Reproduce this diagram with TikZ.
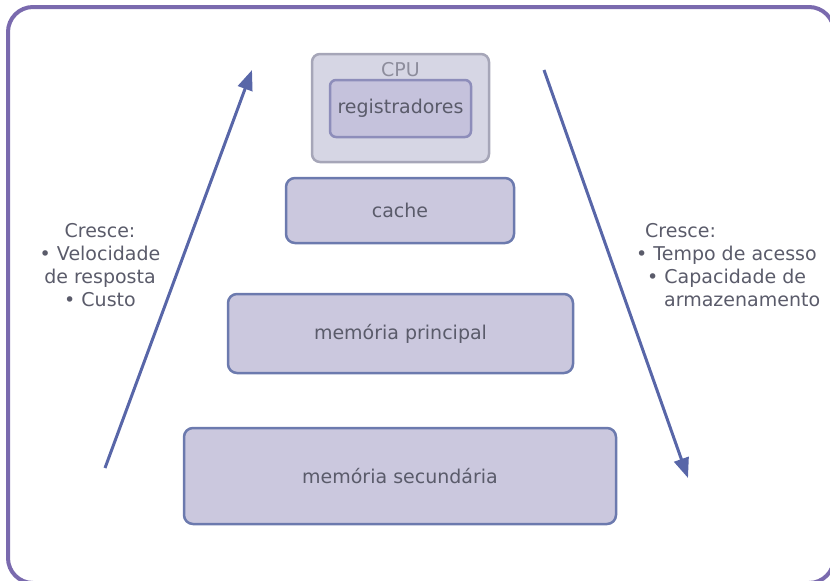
\documentclass[tikz,border=0pt]{standalone}
\usepackage{fontspec}
\setmainfont{DejaVu Sans}
\usetikzlibrary{arrows.meta}

\definecolor{framepurple}{HTML}{7A6AAE}
\definecolor{boxfill}{HTML}{CBC8DE}
\definecolor{boxline}{HTML}{6C7AAE}
\definecolor{labelgray}{HTML}{5A5B6A}
\definecolor{cpufill}{HTML}{D6D6E4}
\definecolor{cpuline}{HTML}{A6A6B8}
\definecolor{regfill}{HTML}{C5C2DC}
\definecolor{regline}{HTML}{8D8DBA}
\definecolor{arrowblue}{HTML}{5866A8}

\begin{document}
\begin{tikzpicture}[
			x = 1pt, y = -1pt,
			every node/.style={font=\fontsize{19}{23}\selectfont, text=labelgray},
			levelbox/.style={draw=boxline, fill=boxfill, line width=2.5pt, rounded corners=9pt, inner sep=0pt},
			growarrow/.style={draw=arrowblue, line width=3pt, -{Triangle[length=20pt,width=15pt]}}
			]

			\useasboundingbox (0,0) rectangle (830,581);
			\draw[framepurple, line width=4pt, rounded corners=25pt] (8,7) rectangle (834,583);

			% processor
			\node[draw=cpuline, fill=cpufill, line width=2.5pt, rounded corners=8pt, minimum width=177pt, minimum height=108pt] (cpu) at (400.5,108) {};
			\node[text=cpuline!85!black] (cpulabel) at (400.5,70) {CPU};
			\node[draw=regline, fill=regfill, line width=2.5pt, rounded corners=6pt, minimum width=141pt, minimum height=57pt, inner sep=0pt] (reg) at (400.5,108.5) {registradores};

			% memory levels
			\node[levelbox, minimum width=228pt, minimum height=65pt] (cache) at (400,210.5) {cache};
			\node[levelbox, minimum width=345pt, minimum height=79pt] (main) at (400.5,333.5) {memória principal};
			\node[levelbox, minimum width=432pt, minimum height=96pt] (second) at (400,476) {memória secundária};

			% arrows and texts
			\coordinate (leftfoot) at (105,468);
			\coordinate (lefttop) at (252,70);
			\coordinate (rightfoot) at (544,70);
			\coordinate (righttip) at (688,478);
			\draw[growarrow] (leftfoot) -- (lefttop);
			\draw[growarrow] (rightfoot) -- (righttip);

			\node[align=center] (leftnote) at (100,265) {Cresce:\\ •~Velocidade\\ de resposta\\ •~Custo};
			\node[align=left, anchor=west, inner sep=0pt] (rightnote) at (636,265) {\hspace*{9pt}Cresce:\\ •~Tempo de acesso\\ \hspace*{11pt}•~Capacidade de\\ \hspace*{28pt}armazenamento};

		\end{tikzpicture}
\end{document}
